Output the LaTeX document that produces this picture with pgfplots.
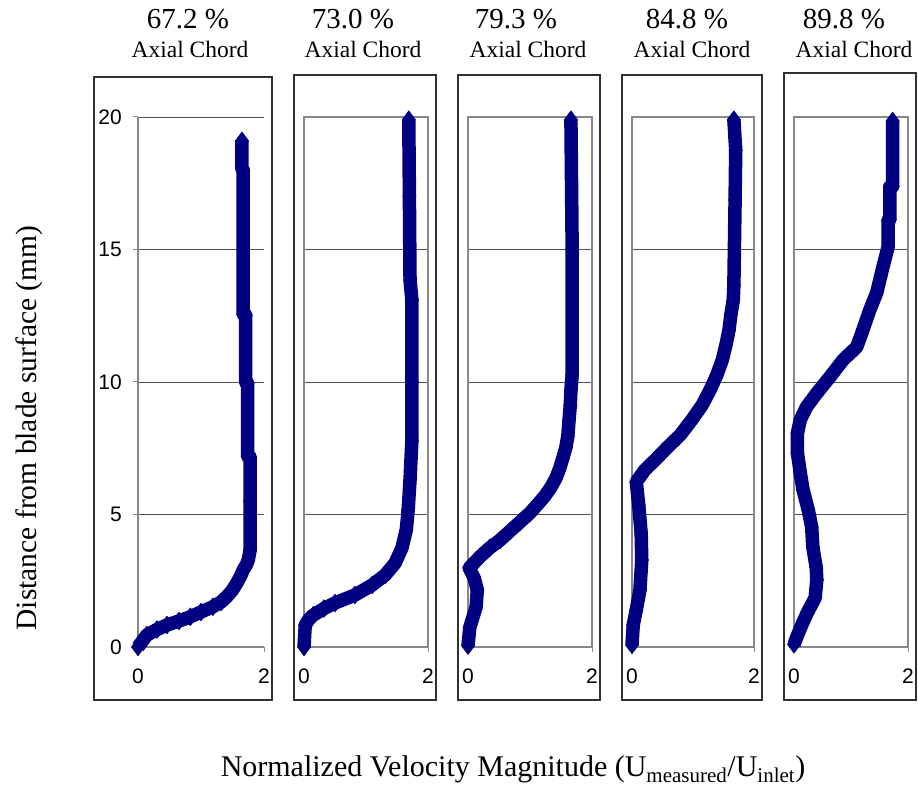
\documentclass[border=0pt]{standalone}
\usepackage{fontspec}
\setmainfont{Liberation Serif}
\newfontfamily\ticksans{Liberation Sans}
\usepackage{pgfplots}
\pgfplotsset{compat=1.18}

\definecolor{curve}{HTML}{000080}
\definecolor{gridc}{HTML}{505050}
\definecolor{framec}{HTML}{888888}
\definecolor{boxc}{HTML}{303030}

% boundary-layer profiles: distance from wall (mm) vs. U/U_inlet
\pgfplotstableread{
u     y
0.00  0.00
0.14  0.45
0.30  0.66
0.46  0.83
0.65  0.98
0.83  1.14
1.00  1.32
1.19  1.52
1.32  1.70
1.41  1.90
1.50  2.15
1.57  2.42
1.63  2.68
1.67  2.91
1.72  3.10
1.75  3.28
1.78  3.66
1.78  5.50
1.78  7.17
1.74  7.20
1.74  9.96
1.71  9.98
1.71  12.53
1.67  12.55
1.67  15.00
1.67  18.00
1.65  18.05
1.65  19.10
}\profA
\pgfplotstableread{
u     y
0.00  0.00
0.02  0.83
0.08  1.05
0.15  1.20
0.32  1.45
0.50  1.66
0.82  1.96
1.10  2.34
1.31  2.72
1.47  3.17
1.58  3.74
1.65  4.42
1.68  5.17
1.71  6.30
1.74  7.80
1.74  10.00
1.74  13.10
1.71  13.85
1.70  17.00
1.69  19.90
}\profB
\pgfplotstableread{
u     y
0.00  0.05
0.03  0.75
0.13  1.50
0.15  2.15
0.10  2.60
0.02  2.98
0.19  3.40
0.35  3.74
0.52  4.04
0.68  4.38
0.84  4.72
1.00  5.06
1.13  5.40
1.24  5.70
1.34  6.04
1.42  6.38
1.48  6.75
1.53  7.13
1.58  7.55
1.61  7.96
1.63  8.57
1.65  9.13
1.66  9.70
1.68  10.26
1.68  15.00
1.66  19.90
}\profC
\pgfplotstableread{
u     y
0.00  0.08
0.02  0.83
0.07  1.40
0.13  2.15
0.16  3.28
0.15  4.30
0.11  5.36
0.07  6.23
0.21  6.68
0.38  7.06
0.57  7.51
0.79  8.00
0.98  8.57
1.15  9.13
1.28  9.70
1.39  10.26
1.48  10.83
1.54  11.40
1.59  11.96
1.62  12.53
1.66  13.09
1.67  13.66
1.69  16.87
1.70  18.75
1.67  19.90
}\profD
\pgfplotstableread{
u     y
0.00  0.10
0.05  0.38
0.14  0.85
0.23  1.28
0.37  1.85
0.40  2.53
0.39  3.00
0.33  3.77
0.31  4.53
0.25  5.17
0.16  5.92
0.11  6.57
0.06  7.32
0.06  8.08
0.11  8.57
0.22  9.06
0.40  9.58
0.63  10.19
0.86  10.83
1.10  11.32
1.19  11.85
1.33  12.72
1.45  13.36
1.56  14.34
1.65  15.09
1.65  16.10
1.68  16.12
1.68  17.36
1.73  17.38
1.73  19.85
}\profE

\pgfplotsset{
  panel/.style={
    scale only axis, anchor=south west, height=530pt,
    xmin=0, xmax=2, ymin=0, ymax=20,
    xtick={0,2}, ytick={0,5,10,15,20},
    xtick pos=bottom, ytick pos=left,
    ymajorgrids, major grid style={gridc, line width=0.9pt},
    tick align=outside, major tick length=5pt,
    tick style={framec, line width=1pt},
    axis line style={framec, line width=1.4pt},
    /pgf/number format/assume math mode=true,
    every tick label/.append style={font=\ticksans\fontsize{21}{21}\selectfont, inner sep=0pt},
    xticklabel shift=17pt,
    yticklabel shift=11pt,
    clip=false,
  },
  inner panel/.style={panel, yticklabels={}, ytick style={draw=none}},
  profile/.style={draw=curve, line width=13.5pt, line join=round,
    mark=diamond*, mark size=9pt,
    mark options={solid, fill=curve, draw=curve, line width=0.4pt}},
}

\begin{document}
\begin{tikzpicture}[x=1pt, y=1pt]
\useasboundingbox (0,0) rectangle (918,786);

% chart frames
\draw[boxc, line width=1.3pt] (94,86) rectangle (272,709);
\draw[boxc, line width=1.3pt] (294,86) rectangle (436,711);
\draw[boxc, line width=1.3pt] (458,86) rectangle (600,711);
\draw[boxc, line width=1.3pt] (622,86) rectangle (762,711);
\draw[boxc, line width=1.3pt] (784,86) rectangle (916,713);

\begin{axis}[panel, at={(138pt,139pt)}, width=126pt,
  axis x line*=bottom, axis y line*=left, axis line style={-, draw=framec, line width=1.2pt}]
  \addplot[profile] table[x=u, y=y] {\profA};
\end{axis}

\begin{axis}[inner panel, at={(304pt,139pt)}, width=124pt]
  \addplot[profile] table[x=u, y=y] {\profB};
\end{axis}

\begin{axis}[inner panel, at={(468pt,139pt)}, width=124pt]
  \addplot[profile] table[x=u, y=y] {\profC};
\end{axis}

\begin{axis}[inner panel, at={(632pt,139pt)}, width=122pt]
  \addplot[profile] table[x=u, y=y] {\profD};
\end{axis}

\begin{axis}[inner panel, at={(794pt,139pt)}, width=114pt]
  \addplot[profile] table[x=u, y=y] {\profE};
\end{axis}

% station titles
\begin{scope}[every node/.style={anchor=base, inner sep=0pt}]
  \foreach \xa/\xb/\pct in {188/190/67.2, 353/363/73.0, 516/528/79.3, 687/692/84.8, 844/854/89.8}{
    \node[font=\fontsize{29}{29}\selectfont] at (\xa,757) {\pct\ \%};
    \node[font=\fontsize{23.5}{23.5}\selectfont] at (\xb,728) {Axial Chord};
  }
\end{scope}

% axis titles
\node[rotate=90, font=\fontsize{29.5}{30}\selectfont, inner sep=0pt] at (29,358)
  {Distance from blade surface (mm)};
\node[anchor=base, font=\fontsize{30}{30}\selectfont, inner sep=0pt] at (513,9)
  {Normalized Velocity Magnitude (U\textsubscript{measured}/U\textsubscript{inlet})};
\end{tikzpicture}
\end{document}
